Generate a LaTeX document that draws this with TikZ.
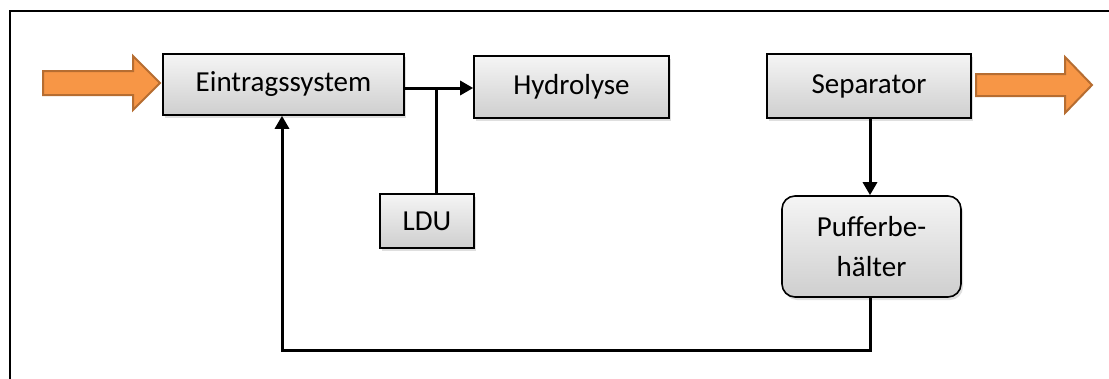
\documentclass[tikz,border=0pt]{standalone}
\usepackage{fontspec}
\setmainfont{Carlito}
\usetikzlibrary{arrows.meta,shadows,positioning}
\definecolor{orfill}{HTML}{F79646}
\definecolor{ordraw}{HTML}{B66D31}
\tikzset{
  blk/.style={draw=black, line width=1.6pt, rectangle, top color=gray!8, bottom color=gray!38,
    drop shadow={shadow xshift=2pt, shadow yshift=-3pt, opacity=0.25},
    font=\fontsize{29}{34}\selectfont, inner sep=0pt, align=center},
  conn/.style={line width=3pt, draw=black},
  tip/.style={-{Triangle[length=13pt,width=14pt]}},
  flow/.style={fill=orfill, draw=ordraw, line width=2pt, line join=miter}
}
\begin{document}
\begin{tikzpicture}[x=1pt,y=-1pt]
\useasboundingbox (0,0) rectangle (1109,378);
\draw[line width=2.5pt] (1120,11) -- (10,11) -- (10,390);
\node[blk, minimum width=241pt, minimum height=61pt] (ein) at (283.5,84.5) {Eintragssystem};
\node[blk, minimum width=195pt, minimum height=62pt] (hyd) at (571.5,87) {Hydrolyse};
\node[blk, minimum width=94pt, minimum height=54pt] (ldu) at (427,221) {LDU};
\node[blk, minimum width=204pt, minimum height=64pt] (sep) at (869,86) {Separator};
\node[blk, rounded corners=13pt, minimum width=179pt, minimum height=101pt, text width=170pt] (puf) at (871.5,246.5) {Pufferbe-\\[6pt]hälter};
% connectors
\coordinate (j) at (436,88);
\draw[conn] (ein.east |- j) -- (j);
\draw[conn, tip] (j) -- (hyd.west |- j);
\draw[conn] (j) -- (j |- ldu.north);
\draw[conn, tip] (sep.south -| 870,0) -- (870,0 |- puf.north);
\coordinate (c1) at (870,350);
\coordinate (c2) at (282,350);
\draw[conn, tip, line join=miter] (puf.south -| c1) -- (c1) -- (c2) -- (c2 |- ein.south);
% orange flow arrows
\coordinate (inTip) at (160,83);
\coordinate (outTail) at (976,85);
\draw[flow] (inTip) -- ++(-27,-27) -- ++(0,15) -- ++(-90,0) -- ++(0,24) -- ++(90,0) -- ++(0,15) -- cycle;
\draw[flow] (outTail) ++(0,-11) -- ++(89,0) -- ++(0,-17) -- ++(27,28) -- ++(-27,28) -- ++(0,-17) -- ++(-89,0) -- cycle;
\end{tikzpicture}
\end{document}
